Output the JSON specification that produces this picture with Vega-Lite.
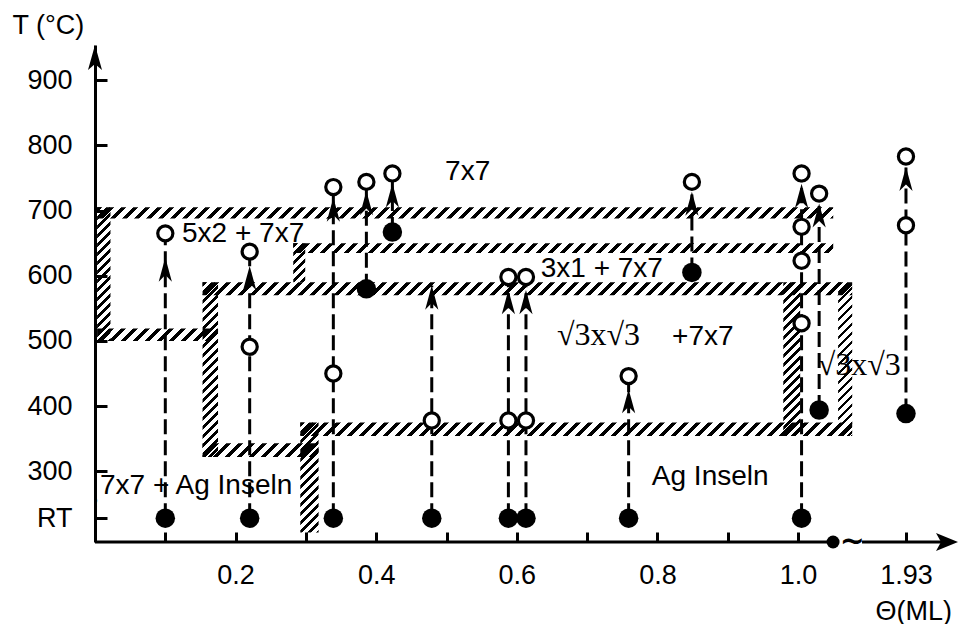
{
  "$schema": "https://vega.github.io/schema/vega-lite/v6.json",
  "width": 863,
  "height": 497,
  "autosize": {"type": "none"},
  "padding": {"left": 95, "top": 45, "right": 4, "bottom": 82},
  "background": "white",
  "config": {
    "view": {"stroke": null},
    "font": "Liberation Sans",
    "axis": {
      "grid": false,
      "labelFont": "Liberation Sans",
      "labelFontSize": 27,
      "labelColor": "black",
      "tickColor": "black",
      "tickWidth": 3,
      "domainColor": "black",
      "domainWidth": 3,
      "titleFont": "Liberation Sans",
      "titleFontSize": 27,
      "titleFontWeight": "normal",
      "titleColor": "black",
      "labelOverlap": false,
      "labelFlush": false
    }
  },
  "params": [
    {
      "name": "hatch",
      "value": [
        {"offset":0,"color":"#000"},{"offset":0.00625,"color":"#000"},{"offset":0.00625,"color":"transparent"},{"offset":0.015625,"color":"transparent"},
        {"offset":0.015625,"color":"#000"},{"offset":0.021875,"color":"#000"},{"offset":0.021875,"color":"transparent"},{"offset":0.03125,"color":"transparent"},
        {"offset":0.03125,"color":"#000"},{"offset":0.0375,"color":"#000"},{"offset":0.0375,"color":"transparent"},{"offset":0.046875,"color":"transparent"},
        {"offset":0.046875,"color":"#000"},{"offset":0.053125,"color":"#000"},{"offset":0.053125,"color":"transparent"},{"offset":0.0625,"color":"transparent"},
        {"offset":0.0625,"color":"#000"},{"offset":0.06875,"color":"#000"},{"offset":0.06875,"color":"transparent"},{"offset":0.078125,"color":"transparent"},
        {"offset":0.078125,"color":"#000"},{"offset":0.084375,"color":"#000"},{"offset":0.084375,"color":"transparent"},{"offset":0.09375,"color":"transparent"},
        {"offset":0.09375,"color":"#000"},{"offset":0.1,"color":"#000"},{"offset":0.1,"color":"transparent"},{"offset":0.109375,"color":"transparent"},
        {"offset":0.109375,"color":"#000"},{"offset":0.115625,"color":"#000"},{"offset":0.115625,"color":"transparent"},{"offset":0.125,"color":"transparent"},
        {"offset":0.125,"color":"#000"},{"offset":0.13125,"color":"#000"},{"offset":0.13125,"color":"transparent"},{"offset":0.140625,"color":"transparent"},
        {"offset":0.140625,"color":"#000"},{"offset":0.146875,"color":"#000"},{"offset":0.146875,"color":"transparent"},{"offset":0.15625,"color":"transparent"},
        {"offset":0.15625,"color":"#000"},{"offset":0.1625,"color":"#000"},{"offset":0.1625,"color":"transparent"},{"offset":0.171875,"color":"transparent"},
        {"offset":0.171875,"color":"#000"},{"offset":0.178125,"color":"#000"},{"offset":0.178125,"color":"transparent"},{"offset":0.1875,"color":"transparent"},
        {"offset":0.1875,"color":"#000"},{"offset":0.19375,"color":"#000"},{"offset":0.19375,"color":"transparent"},{"offset":0.203125,"color":"transparent"},
        {"offset":0.203125,"color":"#000"},{"offset":0.209375,"color":"#000"},{"offset":0.209375,"color":"transparent"},{"offset":0.21875,"color":"transparent"},
        {"offset":0.21875,"color":"#000"},{"offset":0.225,"color":"#000"},{"offset":0.225,"color":"transparent"},{"offset":0.234375,"color":"transparent"},
        {"offset":0.234375,"color":"#000"},{"offset":0.240625,"color":"#000"},{"offset":0.240625,"color":"transparent"},{"offset":0.25,"color":"transparent"},
        {"offset":0.25,"color":"#000"},{"offset":0.25625,"color":"#000"},{"offset":0.25625,"color":"transparent"},{"offset":0.265625,"color":"transparent"},
        {"offset":0.265625,"color":"#000"},{"offset":0.271875,"color":"#000"},{"offset":0.271875,"color":"transparent"},{"offset":0.28125,"color":"transparent"},
        {"offset":0.28125,"color":"#000"},{"offset":0.2875,"color":"#000"},{"offset":0.2875,"color":"transparent"},{"offset":0.296875,"color":"transparent"},
        {"offset":0.296875,"color":"#000"},{"offset":0.303125,"color":"#000"},{"offset":0.303125,"color":"transparent"},{"offset":0.3125,"color":"transparent"},
        {"offset":0.3125,"color":"#000"},{"offset":0.31875,"color":"#000"},{"offset":0.31875,"color":"transparent"},{"offset":0.328125,"color":"transparent"},
        {"offset":0.328125,"color":"#000"},{"offset":0.334375,"color":"#000"},{"offset":0.334375,"color":"transparent"},{"offset":0.34375,"color":"transparent"},
        {"offset":0.34375,"color":"#000"},{"offset":0.35,"color":"#000"},{"offset":0.35,"color":"transparent"},{"offset":0.359375,"color":"transparent"},
        {"offset":0.359375,"color":"#000"},{"offset":0.365625,"color":"#000"},{"offset":0.365625,"color":"transparent"},{"offset":0.375,"color":"transparent"},
        {"offset":0.375,"color":"#000"},{"offset":0.38125,"color":"#000"},{"offset":0.38125,"color":"transparent"},{"offset":0.390625,"color":"transparent"},
        {"offset":0.390625,"color":"#000"},{"offset":0.396875,"color":"#000"},{"offset":0.396875,"color":"transparent"},{"offset":0.40625,"color":"transparent"},
        {"offset":0.40625,"color":"#000"},{"offset":0.4125,"color":"#000"},{"offset":0.4125,"color":"transparent"},{"offset":0.421875,"color":"transparent"},
        {"offset":0.421875,"color":"#000"},{"offset":0.428125,"color":"#000"},{"offset":0.428125,"color":"transparent"},{"offset":0.4375,"color":"transparent"},
        {"offset":0.4375,"color":"#000"},{"offset":0.44375,"color":"#000"},{"offset":0.44375,"color":"transparent"},{"offset":0.453125,"color":"transparent"},
        {"offset":0.453125,"color":"#000"},{"offset":0.459375,"color":"#000"},{"offset":0.459375,"color":"transparent"},{"offset":0.46875,"color":"transparent"},
        {"offset":0.46875,"color":"#000"},{"offset":0.475,"color":"#000"},{"offset":0.475,"color":"transparent"},{"offset":0.484375,"color":"transparent"},
        {"offset":0.484375,"color":"#000"},{"offset":0.490625,"color":"#000"},{"offset":0.490625,"color":"transparent"},{"offset":0.5,"color":"transparent"},
        {"offset":0.5,"color":"#000"},{"offset":0.50625,"color":"#000"},{"offset":0.50625,"color":"transparent"},{"offset":0.515625,"color":"transparent"},
        {"offset":0.515625,"color":"#000"},{"offset":0.521875,"color":"#000"},{"offset":0.521875,"color":"transparent"},{"offset":0.53125,"color":"transparent"},
        {"offset":0.53125,"color":"#000"},{"offset":0.5375,"color":"#000"},{"offset":0.5375,"color":"transparent"},{"offset":0.546875,"color":"transparent"},
        {"offset":0.546875,"color":"#000"},{"offset":0.553125,"color":"#000"},{"offset":0.553125,"color":"transparent"},{"offset":0.5625,"color":"transparent"},
        {"offset":0.5625,"color":"#000"},{"offset":0.56875,"color":"#000"},{"offset":0.56875,"color":"transparent"},{"offset":0.578125,"color":"transparent"},
        {"offset":0.578125,"color":"#000"},{"offset":0.584375,"color":"#000"},{"offset":0.584375,"color":"transparent"},{"offset":0.59375,"color":"transparent"},
        {"offset":0.59375,"color":"#000"},{"offset":0.6,"color":"#000"},{"offset":0.6,"color":"transparent"},{"offset":0.609375,"color":"transparent"},
        {"offset":0.609375,"color":"#000"},{"offset":0.615625,"color":"#000"},{"offset":0.615625,"color":"transparent"},{"offset":0.625,"color":"transparent"},
        {"offset":0.625,"color":"#000"},{"offset":0.63125,"color":"#000"},{"offset":0.63125,"color":"transparent"},{"offset":0.640625,"color":"transparent"},
        {"offset":0.640625,"color":"#000"},{"offset":0.646875,"color":"#000"},{"offset":0.646875,"color":"transparent"},{"offset":0.65625,"color":"transparent"},
        {"offset":0.65625,"color":"#000"},{"offset":0.6625,"color":"#000"},{"offset":0.6625,"color":"transparent"},{"offset":0.671875,"color":"transparent"},
        {"offset":0.671875,"color":"#000"},{"offset":0.678125,"color":"#000"},{"offset":0.678125,"color":"transparent"},{"offset":0.6875,"color":"transparent"},
        {"offset":0.6875,"color":"#000"},{"offset":0.69375,"color":"#000"},{"offset":0.69375,"color":"transparent"},{"offset":0.703125,"color":"transparent"},
        {"offset":0.703125,"color":"#000"},{"offset":0.709375,"color":"#000"},{"offset":0.709375,"color":"transparent"},{"offset":0.71875,"color":"transparent"},
        {"offset":0.71875,"color":"#000"},{"offset":0.725,"color":"#000"},{"offset":0.725,"color":"transparent"},{"offset":0.734375,"color":"transparent"},
        {"offset":0.734375,"color":"#000"},{"offset":0.740625,"color":"#000"},{"offset":0.740625,"color":"transparent"},{"offset":0.75,"color":"transparent"},
        {"offset":0.75,"color":"#000"},{"offset":0.75625,"color":"#000"},{"offset":0.75625,"color":"transparent"},{"offset":0.765625,"color":"transparent"},
        {"offset":0.765625,"color":"#000"},{"offset":0.771875,"color":"#000"},{"offset":0.771875,"color":"transparent"},{"offset":0.78125,"color":"transparent"},
        {"offset":0.78125,"color":"#000"},{"offset":0.7875,"color":"#000"},{"offset":0.7875,"color":"transparent"},{"offset":0.796875,"color":"transparent"},
        {"offset":0.796875,"color":"#000"},{"offset":0.803125,"color":"#000"},{"offset":0.803125,"color":"transparent"},{"offset":0.8125,"color":"transparent"},
        {"offset":0.8125,"color":"#000"},{"offset":0.81875,"color":"#000"},{"offset":0.81875,"color":"transparent"},{"offset":0.828125,"color":"transparent"},
        {"offset":0.828125,"color":"#000"},{"offset":0.834375,"color":"#000"},{"offset":0.834375,"color":"transparent"},{"offset":0.84375,"color":"transparent"},
        {"offset":0.84375,"color":"#000"},{"offset":0.85,"color":"#000"},{"offset":0.85,"color":"transparent"},{"offset":0.859375,"color":"transparent"},
        {"offset":0.859375,"color":"#000"},{"offset":0.865625,"color":"#000"},{"offset":0.865625,"color":"transparent"},{"offset":0.875,"color":"transparent"},
        {"offset":0.875,"color":"#000"},{"offset":0.88125,"color":"#000"},{"offset":0.88125,"color":"transparent"},{"offset":0.890625,"color":"transparent"},
        {"offset":0.890625,"color":"#000"},{"offset":0.896875,"color":"#000"},{"offset":0.896875,"color":"transparent"},{"offset":0.90625,"color":"transparent"},
        {"offset":0.90625,"color":"#000"},{"offset":0.9125,"color":"#000"},{"offset":0.9125,"color":"transparent"},{"offset":0.921875,"color":"transparent"},
        {"offset":0.921875,"color":"#000"},{"offset":0.928125,"color":"#000"},{"offset":0.928125,"color":"transparent"},{"offset":0.9375,"color":"transparent"},
        {"offset":0.9375,"color":"#000"},{"offset":0.94375,"color":"#000"},{"offset":0.94375,"color":"transparent"},{"offset":0.953125,"color":"transparent"},
        {"offset":0.953125,"color":"#000"},{"offset":0.959375,"color":"#000"},{"offset":0.959375,"color":"transparent"},{"offset":0.96875,"color":"transparent"},
        {"offset":0.96875,"color":"#000"},{"offset":0.975,"color":"#000"},{"offset":0.975,"color":"transparent"},{"offset":0.984375,"color":"transparent"},
        {"offset":0.984375,"color":"#000"},{"offset":0.990625,"color":"#000"},{"offset":0.990625,"color":"transparent"},{"offset":1,"color":"transparent"}
      ]
    }
  ],
  "encoding": {
    "x": {
      "field": "theta",
      "type": "quantitative",
      "scale": {"domain": [0, 1.2275], "nice": false, "zero": false},
      "axis": {
        "values": [0.1, 0.2, 0.3, 0.4, 0.5, 0.6, 0.7, 0.8, 0.9, 1.0, 1.1535],
        "labelExpr": "datum.value > 1.1 ? '1.93' : (round(datum.value*10) % 2 == 0 ? format(datum.value, '.1f') : '')",
        "tickSize": -10,
        "labelPadding": 30,
        "domain": false,
        "title": "Θ(ML)",
        "titleAlign": "left",
        "titleBaseline": "alphabetic",
        "titleX": 780,
        "titleY": 77
      }
    },
    "y": {
      "field": "T",
      "type": "quantitative",
      "scale": {"domain": [191.5, 954], "nice": false, "zero": false},
      "axis": {
        "values": [228, 300, 400, 500, 600, 700, 800, 900],
        "labelExpr": "datum.value < 250 ? 'RT' : datum.label",
        "tickSize": -12,
        "labelPadding": 35,
        "title": "T (°C)",
        "titleAngle": 0,
        "titleAlign": "left",
        "titleBaseline": "alphabetic",
        "titleX": -83,
        "titleY": -12
      }
    }
  },
  "layer": [
    {
      "data": {"values": [
        {"theta": 0.003, "theta2": 1.05, "T": 688, "T2": 705},
        {"theta": 0.003, "theta2": 0.022, "T": 500, "T2": 705},
        {"theta": 0.003, "theta2": 0.175, "T": 500, "T2": 519},
        {"theta": 0.153, "theta2": 0.175, "T": 322, "T2": 590},
        {"theta": 0.153, "theta2": 1.077, "T": 570, "T2": 590},
        {"theta": 0.153, "theta2": 0.318, "T": 322, "T2": 343},
        {"theta": 0.292, "theta2": 0.318, "T": 206, "T2": 375},
        {"theta": 0.292, "theta2": 1.077, "T": 354, "T2": 375},
        {"theta": 0.979, "theta2": 1.003, "T": 354, "T2": 590},
        {"theta": 0.282, "theta2": 1.05, "T": 635, "T2": 650},
        {"theta": 0.282, "theta2": 0.299, "T": 590, "T2": 650},
        {"theta": 1.057, "theta2": 1.077, "T": 354, "T2": 590}
      ]},
      "mark": {
        "type": "rect",
        "fill": {"expr": "{gradient:'linear',x1:0,y1:0,x2:abs(scale('x',datum.theta2)-scale('x',datum.theta))*(abs(scale('x',datum.theta2)-scale('x',datum.theta))>abs(scale('y',datum.T)-scale('y',datum.T2))?768:576)/(pow(scale('x',datum.theta2)-scale('x',datum.theta),2)+pow(scale('y',datum.T)-scale('y',datum.T2),2)),y2:abs(scale('y',datum.T)-scale('y',datum.T2))*(abs(scale('x',datum.theta2)-scale('x',datum.theta))>abs(scale('y',datum.T)-scale('y',datum.T2))?768:576)/(pow(scale('x',datum.theta2)-scale('x',datum.theta),2)+pow(scale('y',datum.T)-scale('y',datum.T2),2)),stops:hatch}"}
      },
      "encoding": {"x2": {"field": "theta2"}, "y2": {"field": "T2"}}
    },
    {
      "data": {"values": [
        {"theta": 0.1, "T": 228, "T2": 665},
        {"theta": 0.22, "T": 228, "T2": 637},
        {"theta": 0.339, "T": 228, "T2": 736},
        {"theta": 0.386, "T": 580, "T2": 744},
        {"theta": 0.423, "T": 667, "T2": 757},
        {"theta": 0.479, "T": 228, "T2": 585},
        {"theta": 0.588, "T": 228, "T2": 598},
        {"theta": 0.613, "T": 228, "T2": 598},
        {"theta": 0.759, "T": 228, "T2": 446},
        {"theta": 0.849, "T": 605, "T2": 744},
        {"theta": 1.005, "T": 228, "T2": 757},
        {"theta": 1.03, "T": 394, "T2": 726},
        {"theta": 1.1535, "T": 388.5, "T2": 783}
      ]},
      "mark": {"type": "rule", "color": "black", "strokeWidth": 3, "strokeDash": [15, 6]},
      "encoding": {"y2": {"field": "T2"}}
    },
    {
      "data": {"values": [
        {"theta": 0.1, "T": 628},
        {"theta": 0.22, "T": 615},
        {"theta": 0.339, "T": 720},
        {"theta": 0.386, "T": 730},
        {"theta": 0.423, "T": 742},
        {"theta": 0.479, "T": 585},
        {"theta": 0.588, "T": 578},
        {"theta": 0.613, "T": 578},
        {"theta": 0.759, "T": 426},
        {"theta": 0.849, "T": 729},
        {"theta": 1.005, "T": 741},
        {"theta": 1.03, "T": 711},
        {"theta": 1.1535, "T": 767}
      ]},
      "mark": {"type": "point", "shape": "M0,0L0.6,2.2L0,1.6L-0.6,2.2Z", "size": 484, "filled": true, "color": "black", "opacity": 1}
    },
    {
      "data": {"values": [
        {"theta": 0.1, "T": 665},
        {"theta": 0.22, "T": 491},
        {"theta": 0.22, "T": 637},
        {"theta": 0.339, "T": 450},
        {"theta": 0.339, "T": 736},
        {"theta": 0.386, "T": 744},
        {"theta": 0.423, "T": 757},
        {"theta": 0.479, "T": 378},
        {"theta": 0.588, "T": 378},
        {"theta": 0.588, "T": 598},
        {"theta": 0.613, "T": 378},
        {"theta": 0.613, "T": 598},
        {"theta": 0.759, "T": 446},
        {"theta": 0.849, "T": 744},
        {"theta": 1.005, "T": 757},
        {"theta": 1.005, "T": 675},
        {"theta": 1.005, "T": 623},
        {"theta": 1.005, "T": 527},
        {"theta": 1.03, "T": 726},
        {"theta": 1.1535, "T": 783},
        {"theta": 1.1535, "T": 677.5}
      ]},
      "mark": {"type": "point", "shape": "circle", "size": 230, "filled": true, "fill": "white", "stroke": "black", "strokeWidth": 3.2, "opacity": 1}
    },
    {
      "data": {"values": [
        {"theta": 0.1, "T": 228},
        {"theta": 0.22, "T": 228},
        {"theta": 0.339, "T": 228},
        {"theta": 0.386, "T": 580},
        {"theta": 0.423, "T": 667},
        {"theta": 0.479, "T": 228},
        {"theta": 0.588, "T": 228},
        {"theta": 0.613, "T": 228},
        {"theta": 0.759, "T": 228},
        {"theta": 0.849, "T": 605},
        {"theta": 1.005, "T": 228},
        {"theta": 1.03, "T": 394},
        {"theta": 1.1535, "T": 388.5}
      ]},
      "mark": {"type": "point", "shape": "circle", "size": 380, "filled": true, "color": "black", "opacity": 1}
    },
    {
      "data": {"values": [
        {"theta": 0, "theta2": 1.046, "T": 191.5},
        {"theta": 1.091, "theta2": 1.22, "T": 191.5}
      ]},
      "mark": {"type": "rule", "color": "black", "strokeWidth": 3},
      "encoding": {"x2": {"field": "theta2"}}
    },
    {
      "data": {"values": [{"theta": 1.0498, "T": 191.5}]},
      "mark": {"type": "point", "shape": "circle", "size": 169, "filled": true, "color": "black", "opacity": 1}
    },
    {
      "data": {"values": [
        {"label": "7x7", "theta": 0.498, "T": 746.5},
        {"label": "5x2 + 7x7", "theta": 0.1238, "T": 651.4},
        {"label": "3x1 + 7x7", "theta": 0.634, "T": 597.7},
        {"label": "+7x7", "theta": 0.8208, "T": 493.4},
        {"label": "7x7 + Ag Inseln", "theta": 0.0071, "T": 264.7},
        {"label": "Ag Inseln", "theta": 0.792, "T": 279.3}
      ]},
      "mark": {"type": "text", "align": "left", "baseline": "alphabetic", "font": "Liberation Sans", "fontSize": 28, "color": "black"},
      "encoding": {"text": {"field": "label"}}
    },
    {
      "data": {"values": [
        {"label": "√3x√3", "theta": 0.657, "T": 493.4},
        {"label": "√3x√3", "theta": 1.028, "T": 447.3}
      ]},
      "mark": {"type": "text", "align": "left", "baseline": "alphabetic", "font": "Liberation Serif", "fontSize": 32, "color": "black"},
      "encoding": {"text": {"field": "label"}}
    },
    {
      "data": {"values": [{"label": "~", "theta": 1.077, "T": 191.5}]},
      "mark": {"type": "text", "align": "center", "baseline": "middle", "font": "DejaVu Sans", "fontSize": 30, "fontWeight": "bold", "color": "black"},
      "encoding": {"text": {"field": "label"}}
    },
    {
      "data": {"values": [{"label": "~", "theta": 0, "T": 252.4}]},
      "mark": {"type": "text", "align": "center", "baseline": "middle", "angle": 90, "font": "Liberation Sans", "fontSize": 16, "color": "black"},
      "encoding": {"text": {"field": "label"}}
    },
    {
      "data": {"values": [{"theta": 0, "T": 954}]},
      "mark": {"type": "point", "shape": "M0,0L0.7,2.5L0,1.9L-0.7,2.5Z", "size": 400, "filled": true, "color": "black", "opacity": 1}
    },
    {
      "data": {"values": [{"theta": 1.2275, "T": 191.5}]},
      "mark": {"type": "point", "shape": "M0,0L-2.2,-0.9L-1.7,0L-2.2,0.9Z", "size": 400, "filled": true, "color": "black", "opacity": 1}
    }
  ]
}
